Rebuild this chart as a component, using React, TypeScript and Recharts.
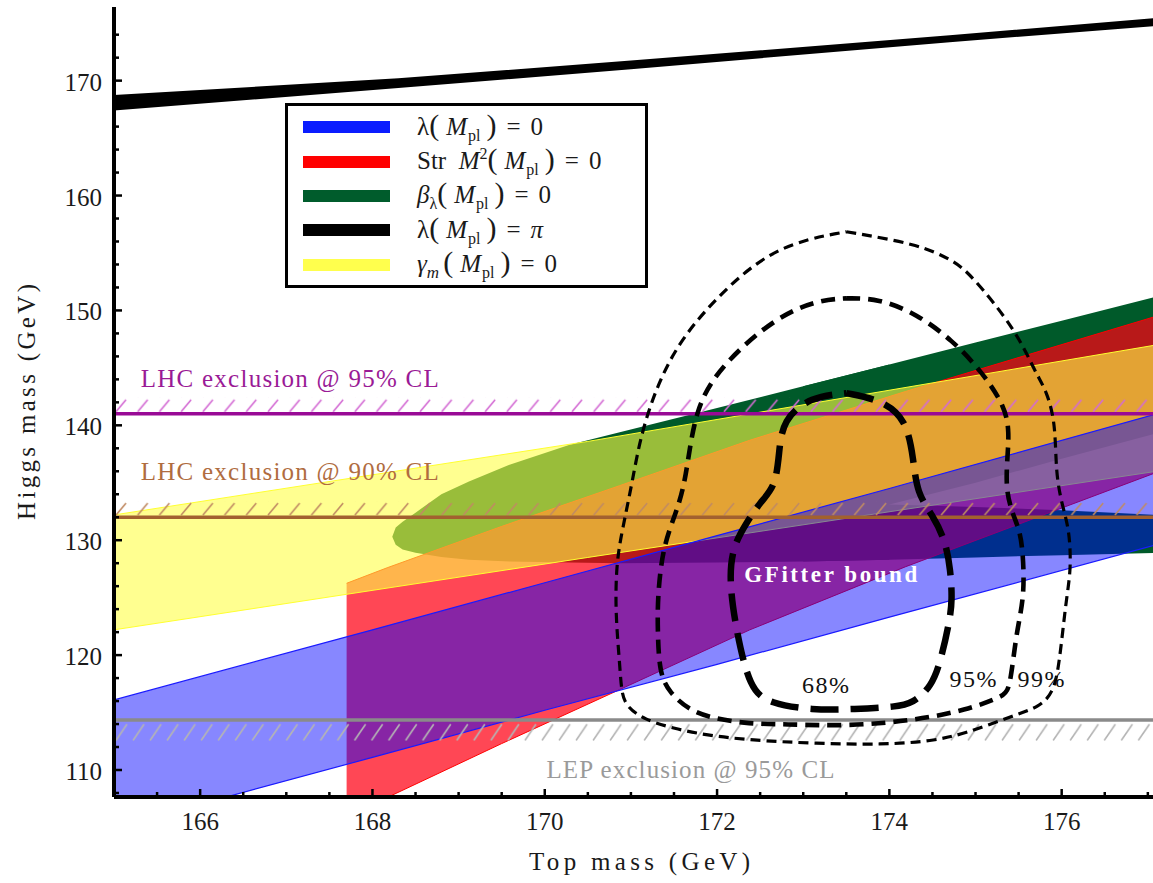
import React from "react";
import {
  Area,
  ComposedChart,
  Legend,
  Line,
  ReferenceArea,
  ReferenceDot,
  ReferenceLine,
  XAxis,
  YAxis,
} from "recharts";

const SERIF = '"Liberation Serif", "Times New Roman", serif';

// axis ticks
const xTicks = [
  165.5, 166, 166.5, 167, 167.5, 168, 168.5, 169, 169.5, 170, 170.5, 171,
  171.5, 172, 172.5, 173, 173.5, 174, 174.5, 175, 175.5, 176, 176.5, 177,
];
const yTicks = [
  108, 110, 112, 114, 116, 118, 120, 122, 124, 126, 128, 130, 132, 134, 136,
  138, 140, 142, 144, 146, 148, 150, 152, 154, 156, 158, 160, 162, 164, 166,
  168, 170, 172, 174,
];

// lambda(Mpl) = pi  (black)
const piX = [165, 168.3, 171, 174.7, 177.1];
const piLow = [167.4, 169.35, 171.0, 173.35, 174.75];
const piHigh = [168.75, 170.2, 171.75, 173.95, 175.45];

// lambda(Mpl) = 0  (blue)
const lamX = [165, 168, 170, 172, 174, 177.1];
const lamLow = [105.0, 111.1, 115.2, 119.2, 123.3, 129.6];
const lamHigh = [116.1, 122.2, 126.3, 130.4, 134.5, 141.0];

// Str M^2(Mpl) = 0  (red)
const strX = [167.7, 168.17, 169.5, 170.87, 172.38, 174.19, 177.1];
const strLow = [105.9, 107.6, 112.3, 117.0, 122.2, 127.7, 135.9];
const strHigh = [126.25, 127.6, 131.2, 134.75, 138.7, 142.95, 149.5];

// beta_lambda(Mpl) = 0  (green) - closed end on the left, two arms on the right
const betaX = [168.23, 168.27, 168.35, 168.5, 168.8, 169.12, 169.6, 170.29, 170.87, 172, 173, 174];
const betaLow = [130.3, 129.6, 129.2, 128.9, 128.55, 128.3, 128.15, 128.05, 128.0, 128.05, 128.15, 128.3];
const betaHigh = [130.3, 131.1, 131.6, 132.4, 134.0, 135.1, 136.6, 138.3, 139.4, 141.5, 143.4, 145.3];
const armX = [173, 174, 175, 176, 177.1];
const lowerArmLow = [128.15, 128.3, 128.5, 128.7, 128.9];
const lowerArmHigh = [133.3, 133.1, 132.9, 132.6, 132.2];
const upperArmLow = [133.1, 133.1, 135.0, 137.1, 139.3];
const upperArmHigh = [143.4, 145.3, 147.2, 149.1, 151.2];

// gamma_m(Mpl) = 0  (yellow)
const gamX = [165, 170.5, 177.1];
const gamLow = [122.2, 128.5, 136.0];
const gamHigh = [132.2, 138.6, 147.0];

// GFitter contours
const c68X = [173.5, 173.91, 174.2, 174.28, 174.32, 174.5, 174.65, 174.71, 174.73, 174.7, 174.6, 174.49, 174.27, 174.08, 173.6, 173.1, 172.61, 172.38, 172.22, 172.14, 172.18, 172.34, 172.5, 172.68, 172.72, 172.76, 173.09, 173.5];
const c68Y = [142.8, 142.2, 140.5, 137.0, 134.1, 132.2, 130.0, 127.4, 124.8, 123.0, 119.6, 117.25, 115.8, 115.5, 115.3, 115.2, 115.8, 117.0, 122.2, 126.5, 129.4, 131.5, 133.3, 134.7, 137.6, 140.5, 142.5, 142.8];

const c95X = [173.5, 173.87, 174.32, 174.73, 175.06, 175.35, 175.39, 175.37, 175.35, 175.43, 175.51, 175.55, 175.57, 175.47, 175.4, 175.32, 174.89, 174.31, 173.54, 172.76, 172.38, 171.95, 171.68, 171.45, 171.33, 171.31, 171.31, 171.37, 171.52, 171.64, 171.74, 172.07, 172.68, 173.17, 173.5];
const c95Y = [151.05, 151.05, 149.7, 147.4, 144.8, 141.6, 139.3, 137.3, 134.4, 132.3, 130.9, 129.1, 125.1, 121.9, 117.0, 116.4, 115.2, 114.35, 113.8, 114.0, 114.0, 114.5, 115.2, 116.7, 118.4, 122.2, 125.1, 129.4, 132.3, 135.2, 141.6, 145.4, 149.4, 150.9, 151.05];

const c99X = [173.5, 174.32, 174.73, 174.94, 175.47, 175.7, 175.82, 175.93, 175.93, 176.01, 176.09, 176.11, 176.05, 175.97, 175.9, 175.74, 175.47, 174.89, 174.5, 173.92, 173.15, 172.38, 171.9, 171.5, 171.15, 170.95, 170.89, 170.87, 170.82, 170.83, 170.9, 171.02, 171.13, 171.45, 171.99, 172.68, 173.5];
const c99Y = [156.85, 155.8, 154.4, 153.2, 148.3, 144.5, 143.1, 140.2, 135.8, 132.9, 130.9, 127.4, 124.8, 119.0, 116.7, 115.5, 114.8, 113.2, 112.5, 112.2, 112.3, 112.6, 113.0, 113.6, 114.4, 115.5, 116.7, 119.3, 123.6, 128.0, 130.9, 135.2, 139.9, 146.3, 151.2, 155.7, 156.85];

// exclusion limits
const lhc95 = 141;
const lhc90 = 132;
const lep95 = 114.35;

const band = (xs: number[], lo: number[], hi: number[]) =>
  xs.map((x, i) => ({ x, r: [lo[i], hi[i]] }));
const curve = (xs: number[], ys: number[]) => xs.map((x, i) => ({ x, y: ys[i] }));

const XTickBottom = (p: any) => {
  const v = p.payload.value;
  const major = v % 2 === 0;
  return (
    <g>
      <line x1={p.x} x2={p.x} y1={p.y} y2={p.y - (major ? 8 : 5)} stroke="#000" strokeWidth={2.5} />
      {major && (
        <text x={p.x} y={p.y + 33} textAnchor="middle" fontFamily={SERIF} fontSize={25} fill="#1a1a1a">
          {v}
        </text>
      )}
    </g>
  );
};

const XTickTop = (p: any) => {
  const major = p.payload.value % 2 === 0;
  return <line x1={p.x} x2={p.x} y1={p.y} y2={p.y + (major ? 8 : 5)} stroke="#000" strokeWidth={2.5} />;
};

const YTick = (p: any) => {
  const v = p.payload.value;
  const major = v % 10 === 0;
  return (
    <g>
      <line x1={p.x} x2={p.x + (major ? 8 : 5)} y1={p.y} y2={p.y} stroke="#000" strokeWidth={2.5} />
      {major && (
        <text x={p.x - 12} y={p.y + 10} textAnchor="end" fontFamily={SERIF} fontSize={25} fill="#1a1a1a">
          {v}
        </text>
      )}
    </g>
  );
};

const Mpl = () => (
  <span style={{ whiteSpace: "nowrap" }}>
    <span style={{ fontSize: 30 }}>(</span>
    <i style={{ margin: "0 1px 0 7px" }}>M</i>
    <span style={{ fontSize: 16, position: "relative", top: 6, marginRight: 6 }}>pl</span>
    <span style={{ fontSize: 30 }}>)</span>
  </span>
);
const Eq = ({ v }: { v: React.ReactNode }) => (
  <span>
    <span style={{ margin: "0 10px" }}>=</span>
    {v}
  </span>
);

const legendColors = ["#0a1cff", "#ff0000", "#005c2c", "#000000", "#ffff4d"];
const legendLabels = [
  <>λ<Mpl /><Eq v="0" /></>,
  <>Str&nbsp;&nbsp;<i>M</i><span style={{ fontSize: 16, position: "relative", top: -10 }}>2</span><Mpl /><Eq v="0" /></>,
  <><i>β</i><span style={{ fontSize: 16, position: "relative", top: 6 }}>λ</span><Mpl /><Eq v="0" /></>,
  <>λ<Mpl /><Eq v={<i>π</i>} /></>,
  <><i>γ</i><i style={{ fontSize: 17, position: "relative", top: 6, marginRight: 4 }}>m</i><Mpl /><Eq v="0" /></>,
];

const LegendBox = () => (
  <div
    style={{
      boxSizing: "border-box",
      width: 363,
      height: 185,
      border: "3px solid #000",
      background: "#fff",
      paddingTop: 4,
      fontFamily: SERIF,
      fontSize: 25,
      color: "#1a1a1a",
    }}
  >
    {legendColors.map((c, i) => (
      <div key={i} style={{ height: 34.4, display: "flex", alignItems: "center" }}>
        <div style={{ width: 87, height: 12, background: c, marginLeft: 15, marginRight: 27 }} />
        <div style={{ lineHeight: "20px" }}>{legendLabels[i]}</div>
      </div>
    ))}
  </div>
);

const plotLabels = [
  { x: 165.31, y: 143.35, text: "LHC exclusion @ 95% CL", color: "#9a1a96", len: 298, anchor: "start", weight: 400, size: 25 },
  { x: 165.31, y: 135.24, text: "LHC exclusion @ 90% CL", color: "#b06c40", len: 298, anchor: "start", weight: 400, size: 25 },
  { x: 170.02, y: 109.33, text: "LEP exclusion @ 95% CL", color: "#9a9a9a", len: 288, anchor: "start", weight: 400, size: 25 },
  { x: 173.32, y: 126.4, text: "GFitter bound", color: "#ffffff", len: 173, anchor: "middle", weight: 700, size: 23 },
  { x: 173.26, y: 116.7, text: "68%", color: "#111", len: 47, anchor: "middle", weight: 400, size: 24 },
  { x: 174.97, y: 117.2, text: "95%", color: "#111", len: 47, anchor: "middle", weight: 400, size: 24 },
  { x: 175.76, y: 117.2, text: "99%", color: "#111", len: 47, anchor: "middle", weight: 400, size: 24 },
];

export default function App() {
  return (
    <div style={{ position: "absolute", left: 0, top: 0, background: "#fff" }}>
      <ComposedChart width={1153} height={883} margin={{ top: 7, right: 0, bottom: 0, left: 0 }}>
        <defs>
          <pattern id="hatchLhc95" patternUnits="objectBoundingBox" x={0} y={0} width={0.0209} height={1}>
            <line x1={2} y1={14} x2={12} y2={2} stroke="#d36ad3" strokeWidth={1.6} />
          </pattern>
          <pattern id="hatchLhc90" patternUnits="objectBoundingBox" x={0} y={0} width={0.0209} height={1}>
            <line x1={2} y1={14} x2={12} y2={2} stroke="#c08a62" strokeWidth={1.6} />
          </pattern>
          <pattern id="hatchLep" patternUnits="objectBoundingBox" x={0} y={0} width={0.0164} height={1}>
            <line x1={2} y1={18} x2={13} y2={2} stroke="#b4b4b4" strokeWidth={1.6} />
          </pattern>
        </defs>

        <XAxis
          dataKey="x"
          type="number"
          domain={[165, 177.06]}
          allowDataOverflow
          ticks={xTicks}
          interval={0}
          tickSize={0}
          tickMargin={0}
          tickLine={false}
          tick={XTickBottom}
          axisLine={{ stroke: "#000", strokeWidth: 4 }}
          height={86}
          label={{
            content: (p: any) => (
              <text
                x={p.viewBox.x + p.viewBox.width / 2 + 6}
                y={p.viewBox.y + 73}
                textAnchor="middle"
                fontFamily={SERIF}
                fontSize={25}
                fill="#1a1a1a"
                textLength={221}
                lengthAdjust="spacing"
              >
                Top mass (GeV)
              </text>
            ),
          }}
        />
        <XAxis
          xAxisId="top"
          orientation="top"
          dataKey="x"
          type="number"
          domain={[165, 177.06]}
          allowDataOverflow
          ticks={xTicks}
          interval={0}
          tickSize={0}
          tickMargin={0}
          tickLine={false}
          tick={XTickTop}
          axisLine={{ stroke: "#000", strokeWidth: 4 }}
          height={0}
        />
        <YAxis
          type="number"
          domain={[107.65, 176.41]}
          allowDataOverflow
          ticks={yTicks}
          interval={0}
          tickSize={0}
          tickMargin={0}
          tickLine={false}
          tick={YTick}
          axisLine={{ stroke: "#000", strokeWidth: 4 }}
          width={114}
          label={{
            content: (p: any) => {
              const cx = p.viewBox.x + 35;
              const cy = p.viewBox.y + p.viewBox.height / 2;
              return (
                <text
                  x={cx}
                  y={cy}
                  transform={`rotate(-90, ${cx}, ${cy})`}
                  textAnchor="middle"
                  fontFamily={SERIF}
                  fontSize={25}
                  fill="#1a1a1a"
                  textLength={236}
                  lengthAdjust="spacing"
                >
                  Higgs mass (GeV)
                </text>
              );
            },
          }}
        />

        {/* bands */}
        <Area data={band(betaX, betaLow, betaHigh)} dataKey="r" type="linear" fill="#005a2a" fillOpacity={1} stroke="none" isAnimationActive={false} />
        <Area data={band(armX, lowerArmLow, lowerArmHigh)} dataKey="r" type="linear" fill="#005a2a" fillOpacity={1} stroke="none" isAnimationActive={false} />
        <Area data={band(armX, upperArmLow, upperArmHigh)} dataKey="r" type="linear" fill="#005a2a" fillOpacity={1} stroke="none" isAnimationActive={false} />
        <Area data={band(strX, strLow, strHigh)} dataKey="r" type="linear" fill="#ff0014" fillOpacity={0.72} stroke="#ff0000" strokeWidth={1} isAnimationActive={false} />
        <Area data={band(gamX, gamLow, gamHigh)} dataKey="r" type="linear" fill="#ffff46" fillOpacity={0.6} stroke="#ffff30" strokeWidth={1} isAnimationActive={false} />
        <Area data={band(lamX, lamLow, lamHigh)} dataKey="r" type="linear" fill="#0000ff" fillOpacity={0.47} stroke="#1a1aff" strokeWidth={1.2} isAnimationActive={false} />
        <Area data={band(piX, piLow, piHigh)} dataKey="r" type="linear" fill="#000" fillOpacity={1} stroke="none" isAnimationActive={false} />

        {/* exclusion limits */}
        <ReferenceArea y1={lhc95 + 0.1} y2={lhc95 + 1.4} fill="url(#hatchLhc95)" fillOpacity={1} stroke="none" />
        <ReferenceArea y1={lhc90 + 0.1} y2={lhc90 + 1.4} fill="url(#hatchLhc90)" fillOpacity={1} stroke="none" />
        <ReferenceArea y1={lep95 - 1.9} y2={lep95 - 0.2} fill="url(#hatchLep)" fillOpacity={1} stroke="none" />
        <ReferenceLine y={lhc95} stroke="#990a96" strokeWidth={3.5} />
        <ReferenceLine y={lhc90} stroke="#a2612f" strokeWidth={3.5} />
        <ReferenceLine y={lep95} stroke="#8a8a8a" strokeWidth={3.5} />

        {/* GFitter contours */}
        <Line data={curve(c99X, c99Y)} dataKey="y" type="basis" stroke="#000" strokeWidth={3.2} strokeDasharray="10 6" dot={false} activeDot={false} isAnimationActive={false} />
        <Line data={curve(c95X, c95Y)} dataKey="y" type="basis" stroke="#000" strokeWidth={4.6} strokeDasharray="14 8" dot={false} activeDot={false} isAnimationActive={false} />
        <Line data={curve(c68X, c68Y)} dataKey="y" type="basis" stroke="#000" strokeWidth={6.5} strokeDasharray="28 12" dot={false} activeDot={false} isAnimationActive={false} />

        {plotLabels.map((l) => (
          <ReferenceDot
            key={l.text}
            x={l.x}
            y={l.y}
            r={0}
            ifOverflow="visible"
            shape={(p: any) => (
              <text
                x={p.cx}
                y={p.cy}
                textAnchor={l.anchor as any}
                fontFamily={SERIF}
                fontSize={l.size}
                fontWeight={l.weight}
                fill={l.color}
                textLength={l.len}
                lengthAdjust="spacing"
              >
                {l.text}
              </text>
            )}
          />
        ))}

        <Legend
          layout="vertical"
          align="center"
          verticalAlign="middle"
          wrapperStyle={{ left: 285, top: 103, width: 363, height: 185 }}
          content={() => <LegendBox />}
        />
      </ComposedChart>
    </div>
  );
}
